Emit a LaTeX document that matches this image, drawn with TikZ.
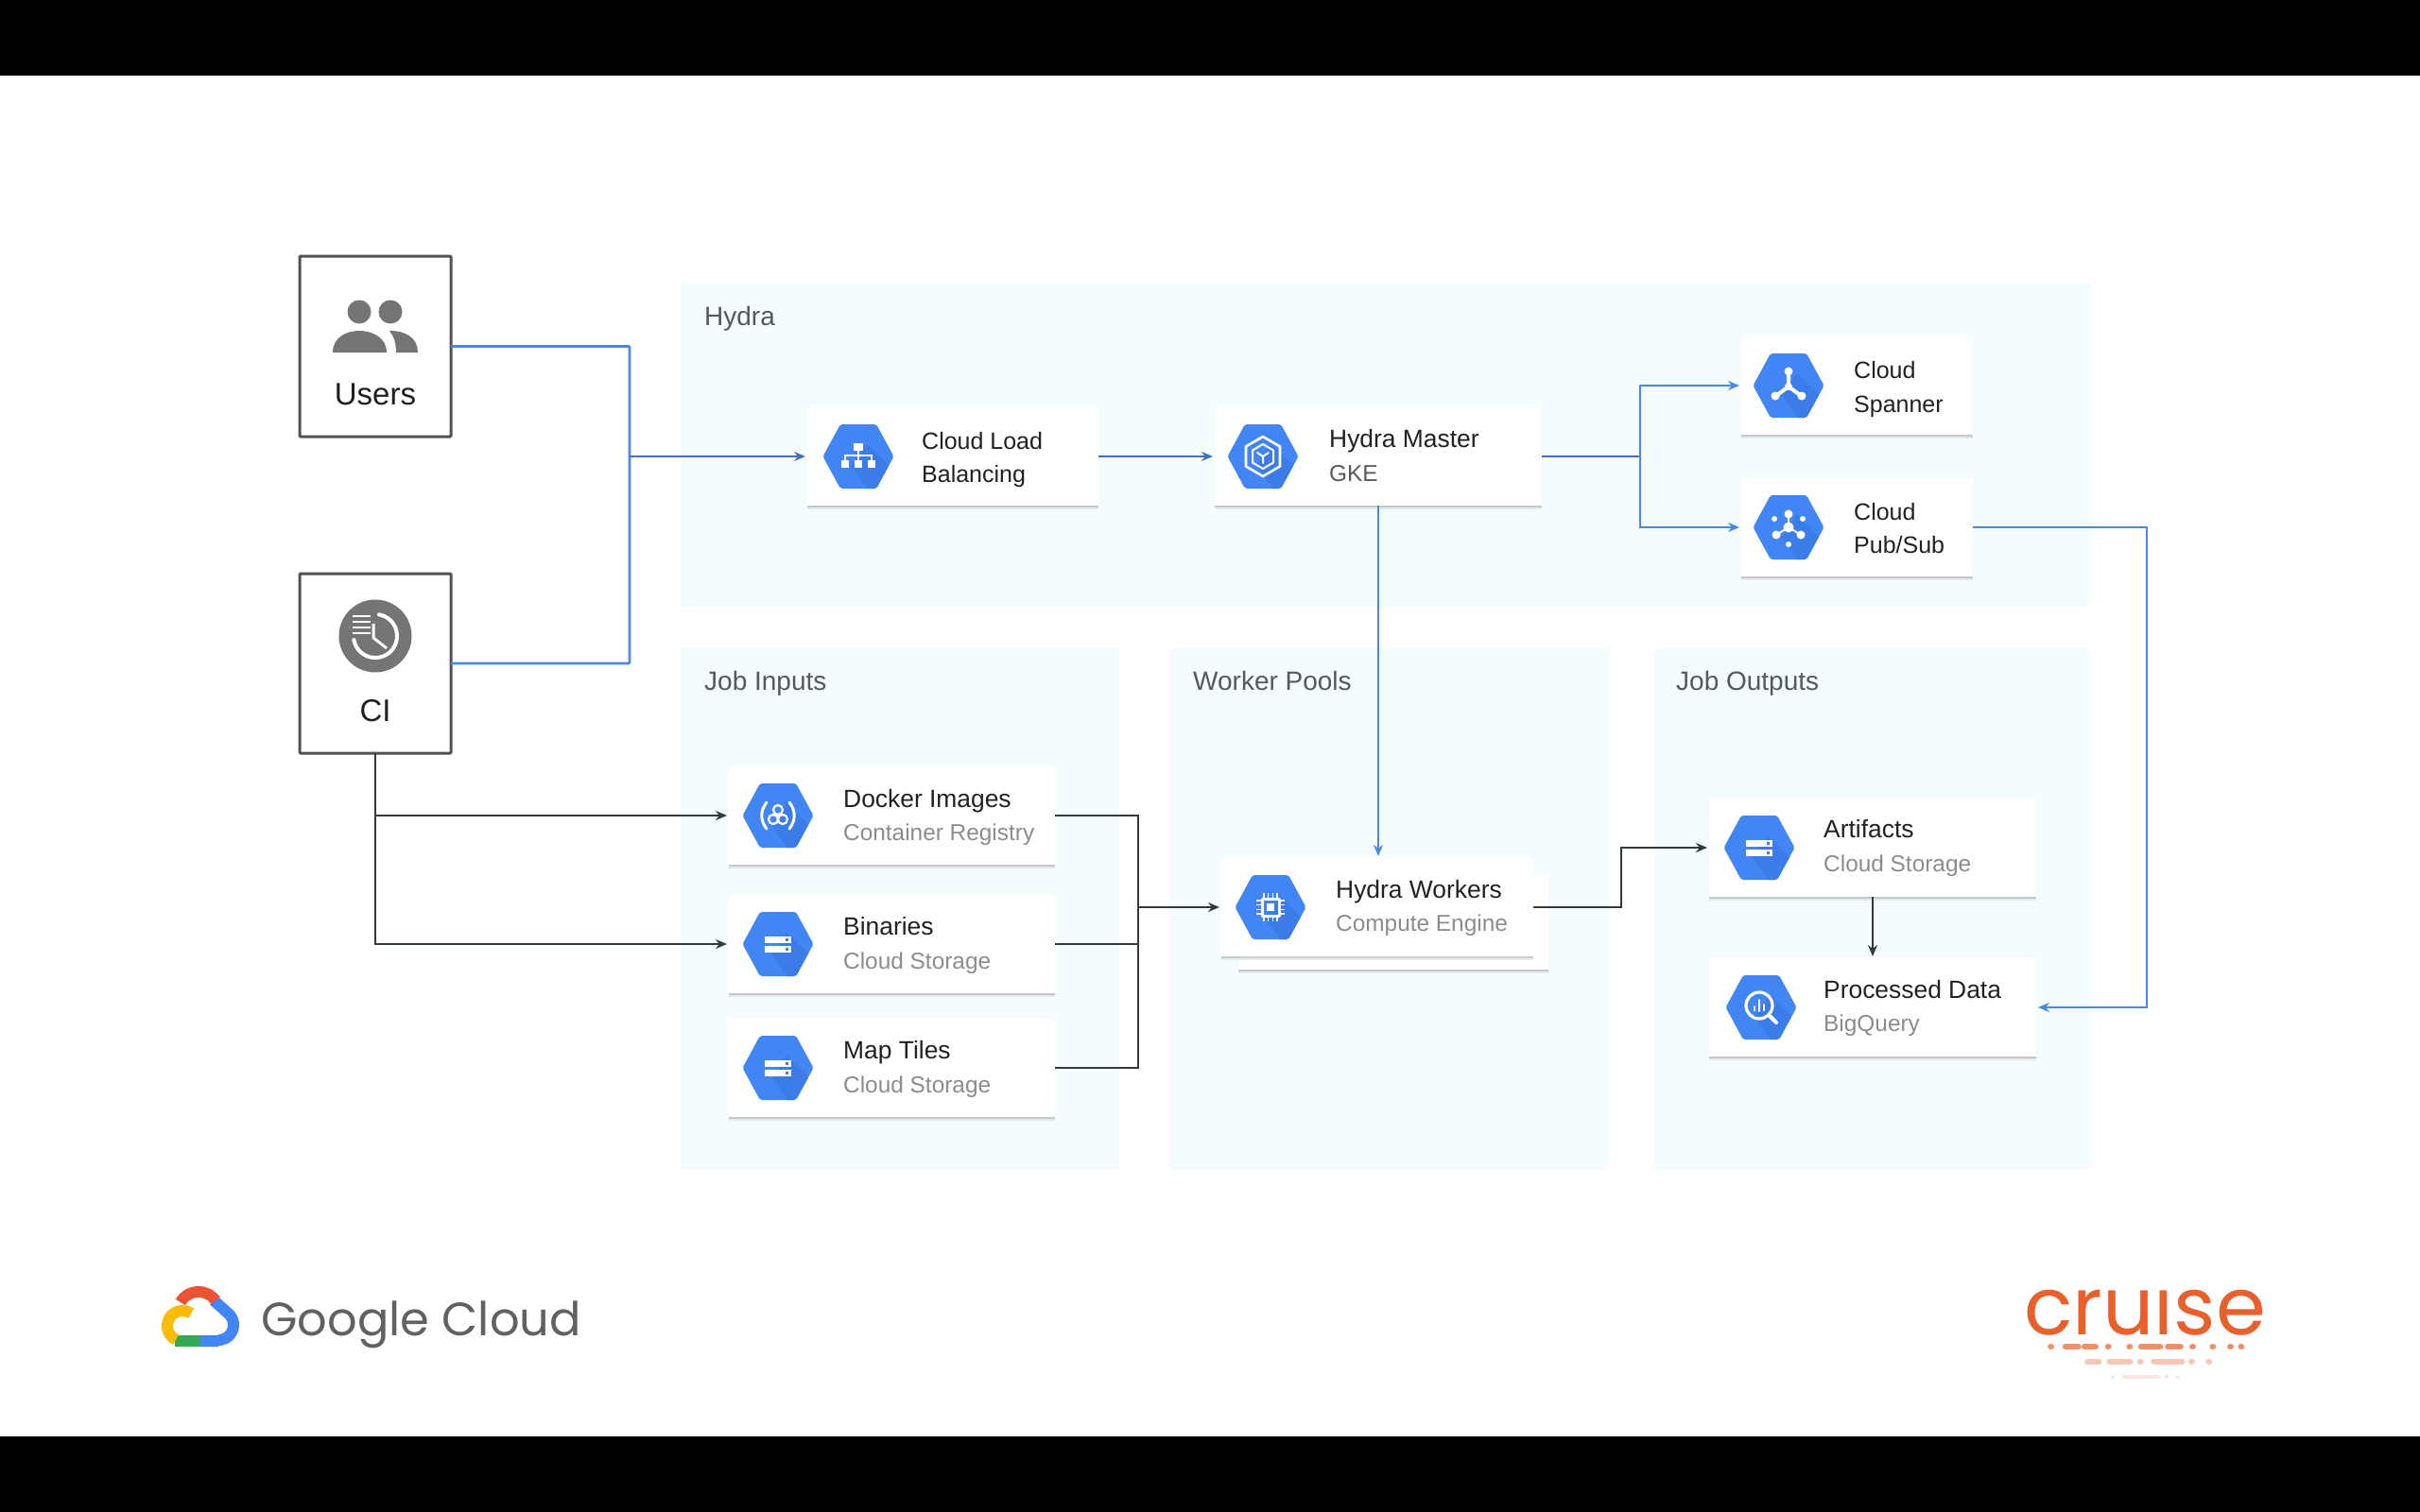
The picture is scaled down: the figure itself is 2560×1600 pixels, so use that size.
\documentclass[tikz,border=0pt]{standalone}
\usepackage{fontspec}
\setmainfont{Liberation Sans}
\newfontfamily\logofont{Poppins}
\usetikzlibrary{arrows.meta,shadows,calc}
\definecolor{zonebg}{HTML}{F4FCFE}
\definecolor{gblue}{HTML}{4285F4}
\definecolor{gbluedk}{HTML}{3C7CE8}
\definecolor{linkblue}{HTML}{4A88E4}
\definecolor{linkdark}{HTML}{4672B4}
\definecolor{linkblack}{HTML}{333A3C}
\definecolor{iconGrey}{HTML}{757575}
\definecolor{titleInk}{HTML}{1F2224}
\definecolor{subInk}{HTML}{8A8D90}
\definecolor{zoneInk}{HTML}{55595C}
\definecolor{cruiseOr}{HTML}{E8602C}
\tikzset{
  x=1pt,y=-1pt,
  >={Stealth[length=12pt,width=10pt]},
  zone/.style={fill=zonebg,draw=none},
  zonelabel/.style={anchor=base west,inner sep=0pt,text=zoneInk,font=\fontsize{28}{32}\selectfont},
  title/.style={anchor=base west,inner sep=0pt,text=titleInk,font=\fontsize{26.4}{30}\selectfont},
  titlenarrow/.style={title,font=\fontsize{25}{30}\selectfont},
  subtitle/.style={anchor=base west,inner sep=0pt,text=subInk,font=\fontsize{24.4}{29}\selectfont},
  cardbox/.style={fill=white,draw=none,inner sep=0pt,outer sep=0pt,
     drop shadow={shadow xshift=0pt,shadow yshift=-4pt,opacity=.10,fill=black!70},
     drop shadow={shadow xshift=0pt,shadow yshift=-2pt,opacity=.20,fill=black!70}},
  actor/.style={fill=white,draw=black!68,line width=3pt,inner sep=0pt,outer sep=0pt,rounded corners=1pt},
  actorlabel/.style={anchor=base,inner sep=0pt,text=black!88,font=\fontsize{33}{38}\selectfont},
  blueline/.style={draw=linkblue,line width=2.8pt},
  bluedark/.style={draw=linkdark,line width=2.8pt},
  blackline/.style={draw=linkblack,line width=2.8pt},
  tip/.style={->,shorten >=2pt},
  ico/.style={draw=white,line width=2.6pt,fill=none,line cap=round,line join=round},
  icf/.style={fill=white,draw=none},
}
\newcommand\mkbox[6]{% style name x1 y1 x2 y2
  \pgfmathsetmacro\mycw{#5-#3}\pgfmathsetmacro\mych{#6-#4}%
  \pgfmathsetmacro\mycx{(#3+#5)/2}\pgfmathsetmacro\mycy{(#4+#6)/2}%
  \node[#1,minimum width=\mycw pt,minimum height=\mych pt] (#2) at (\mycx,\mycy) {};}
\newcommand\hexa[2]{% cx cy
  \begin{scope}[shift={(#1,#2)}]
    \begin{scope}
      \clip[rounded corners=2pt] (-37.5,0)--(-19,-34)--(19,-34)--(37.5,0)--(19,34)--(-19,34)--cycle;
      \fill[gblue] (-40,-36) rectangle (40,36);
      \fill[gbluedk] (-7,10)--(9,-13)--(45,22)--(45,40)--(14,40)--cycle;
    \end{scope}}
\newcommand\hexend{\end{scope}}
\newcommand\icoStorage{%
  \fill[icf] (-14,-8) rectangle (14,-1);
  \fill[icf] (-14,2) rectangle (14,9);
  \fill[gbluedk] (8,-6) rectangle (11,-3);
  \fill[gbluedk] (8,4) rectangle (11,7);}
\begin{document}
\begin{tikzpicture}
\useasboundingbox (0,0) rectangle (2560,1600);
\fill[white] (0,0) rectangle (2560,1600);
\fill[black] (0,0) rectangle (2560,80);
\fill[black] (0,1520) rectangle (2560,1600);
% zones
\fill[zone,rounded corners=3pt] (720,299) rectangle (2212,642);
\fill[zone,rounded corners=3pt] (720,686) rectangle (1184,1238);
\fill[zone,rounded corners=3pt] (1236,686) rectangle (1701,1238);
\fill[zone,rounded corners=3pt] (1749,686) rectangle (2212,1238);
\node[zonelabel] (zhydra) at (745,344) {Hydra};
\node[zonelabel] (zinputs) at (745,730) {Job Inputs};
\node[zonelabel] (zpools) at (1262,730) {Worker Pools};
\node[zonelabel] (zoutputs) at (1773,730) {Job Outputs};
% actors
\mkbox{actor}{users}{317}{271}{477}{462}
\mkbox{actor}{ci}{317}{607}{477}{797}
\node[actorlabel] (userslabel) at (397,428) {Users};
\node[actorlabel] (cilabel) at (397,763) {CI};
% users icon
\fill[iconGrey] (380,330) circle[radius=12.5pt];
\fill[iconGrey] (413,330) circle[radius=12.5pt];
\fill[iconGrey] (352,373) .. controls (352,356) and (368,350) .. (380,350) .. controls (392,350) and (409,356) .. (409,373) -- cycle;
\fill[iconGrey] (412,350) .. controls (430,350) and (442,358) .. (442,373) -- (419,373) .. controls (419,364) and (417,356) .. (412,350) -- cycle;
% ci icon
\fill[iconGrey] (397,673) circle[radius=38.5pt];
\draw[white,line width=4pt,line cap=round] plot[domain=-60:190,samples=40] ({397+23*cos(\x+250)},{673-23*sin(\x+250)});
\draw[white,line width=3pt,line join=round] (395,660)--(395,675)--(409,686);
\foreach \yy in {652,658,664,670} \draw[white,line width=2.2pt] (373,\yy)--(392,\yy);
% cards
\mkbox{cardbox}{lb}{854}{431}{1162}{535}
\mkbox{cardbox}{hm}{1285}{431}{1631}{535}
\mkbox{cardbox}{spanner}{1842}{356}{2087}{460}
\mkbox{cardbox}{pubsub}{1842}{506}{2087}{610}
\mkbox{cardbox}{docker}{771}{811}{1116}{915}
\mkbox{cardbox}{binaries}{771}{947}{1116}{1051}
\mkbox{cardbox}{maptiles}{771}{1078}{1116}{1182}
\mkbox{cardbox}{workersback}{1310}{925}{1638}{1026}
\mkbox{cardbox}{workers}{1292}{908}{1622}{1012}
\mkbox{cardbox}{artifacts}{1808}{845}{2154}{949}
\mkbox{cardbox}{processed}{1808}{1014}{2154}{1118}
% card text
\node[titlenarrow] (t1a) at (975,475) {Cloud Load};
\node[titlenarrow] (t1b) at (975,510) {Balancing};
\node[title] (t2a) at (1406,473) {Hydra Master};
\node[subtitle,text=black!65] (t2b) at (1406,509) {GKE};
\node[titlenarrow] (t3a) at (1961,400) {Cloud};
\node[titlenarrow] (t3b) at (1961,436) {Spanner};
\node[titlenarrow] (t4a) at (1961,550) {Cloud};
\node[titlenarrow] (t4b) at (1961,585) {Pub/Sub};
\node[title] (t5a) at (892,854) {Docker Images};
\node[subtitle] (t5b) at (892,889) {Container Registry};
\node[title] (t6a) at (892,989) {Binaries};
\node[subtitle] (t6b) at (892,1025) {Cloud Storage};
\node[title] (t7a) at (892,1120) {Map Tiles};
\node[subtitle] (t7b) at (892,1156) {Cloud Storage};
\node[title] (t8a) at (1413,950) {Hydra Workers};
\node[subtitle] (t8b) at (1413,985) {Compute Engine};
\node[title] (t9a) at (1929,886) {Artifacts};
\node[subtitle] (t9b) at (1929,922) {Cloud Storage};
\node[title] (t10a) at (1929,1056) {Processed Data};
\node[subtitle] (t10b) at (1929,1091) {BigQuery};
% icons
\hexa{908}{483}
  \fill[icf] (-5,-14) rectangle (5,-6);
  \draw[white,line width=2.2pt] (0,-6)--(0,-1) (-14,5)--(-14,-1)--(14,-1)--(14,5) (0,-1)--(0,5);
  \fill[icf] (-18,4) rectangle (-10,12);
  \fill[icf] (-4,4) rectangle (4,12);
  \fill[icf] (10,4) rectangle (18,12);
\hexend
\hexa{1336}{483}
  \draw[ico] (0,-21)--(18,-10.5)--(18,10.5)--(0,21)--(-18,10.5)--(-18,-10.5)--cycle;
  \draw[ico,line width=2pt] (0,-13)--(11,-6.5)--(11,6.5)--(0,13)--(-11,6.5)--(-11,-6.5)--cycle;
  \draw[ico,line width=2pt] (-6,-4)--(0,0)--(6,-4) (0,0)--(0,7);
\hexend
\hexa{1892}{408}
  \draw[ico,line width=4pt] (0,1)--(0,-13) (0,1)--(-12,10) (0,1)--(12,10);
  \fill[icf] (0,-15) circle[radius=4.5pt];
  \fill[icf] (-14,11) circle[radius=4.5pt];
  \fill[icf] (14,11) circle[radius=4.5pt];
  \fill[icf] (0,1) circle[radius=4pt];
\hexend
\hexa{1892}{558}
  \draw[white,line width=2pt] (0,0)--(0,-14) (0,0)--(-13,8) (0,0)--(13,8);
  \fill[icf] (0,0) circle[radius=5.5pt];
  \fill[icf] (0,-14) circle[radius=4.5pt];
  \fill[icf] (-13,8) circle[radius=4.5pt];
  \fill[icf] (13,8) circle[radius=4.5pt];
  \fill[icf] (0,18) circle[radius=3pt];
  \fill[icf] (-15,-9) circle[radius=3pt];
  \fill[icf] (15,-9) circle[radius=3pt];
\hexend
\hexa{823}{863}
  \draw[ico,line width=3pt] (-12,-14) .. controls (-19,-5) and (-19,5) .. (-12,14);
  \draw[ico,line width=3pt] (12,-14) .. controls (19,-5) and (19,5) .. (12,14);
  \draw[ico,line width=2.2pt] (0,-6) circle[radius=5pt];
  \draw[ico,line width=2.2pt] (-5,4) circle[radius=5pt];
  \draw[ico,line width=2.2pt] (5,4) circle[radius=5pt];
\hexend
\hexa{823}{999}\icoStorage\hexend
\hexa{823}{1130}\icoStorage\hexend
\hexa{1344}{960}
  \draw[ico,line width=3pt] (-9,-9) rectangle (9,9);
  \fill[icf] (-4,-4) rectangle (4,4);
  \foreach \pp in {-7,-2.5,2.5,7} {
    \draw[white,line width=1.6pt] (\pp,-9)--(\pp,-15) (\pp,9)--(\pp,15) (-9,\pp)--(-15,\pp) (9,\pp)--(15,\pp);}
\hexend
\hexa{1861}{897}\icoStorage\hexend
\hexa{1863}{1066}
  \draw[ico,line width=3.2pt] (-2,-2) circle[radius=14pt];
  \draw[ico,line width=4pt] (9,9)--(16,16);
  \draw[ico,line width=2pt] (-7,-1)--(-7,3) (-2,-8)--(-2,4) (3,-3)--(3,3);
\hexend
% connectors
\coordinate (jn) at (666,483);
\coordinate (br) at (1735,483);
\coordinate (bus) at (1204,960);
\coordinate (rail) at (2271,800);
\coordinate (wk) at (1715,930);
\draw[blueline,rounded corners=1pt] (users.east) -| (jn);
\draw[blueline,rounded corners=1pt] (ci.east) -| (jn);
\draw[bluedark,tip] (jn) -- (lb.west);
\draw[bluedark,tip] (lb.east) -- (hm.west);
\draw[bluedark] (hm.east) -- (br);
\draw[blueline,tip] (br) |- (spanner.west);
\draw[blueline,tip] (br) |- (pubsub.west);
\draw[blueline,tip] (hm.south) -- (hm.south |- workers.north);
\draw[blueline,tip] (pubsub.east) -| (rail) |- (processed.east);
\draw[blackline,tip] (ci.south) |- (docker.west);
\draw[blackline,tip] (ci.south) |- (binaries.west);
\draw[blackline] (docker.east) -| (bus);
\draw[blackline] (binaries.east) -| (bus);
\draw[blackline] (maptiles.east) -| (bus);
\draw[blackline,tip] (bus) -- (workers.west);
\draw[blackline,tip] (workers.east) -| (wk) |- (artifacts.west);
\draw[blackline,tip] (artifacts.south) -- (processed.north);
% google cloud logo
\draw[line width=12pt,color={rgb,255:red,66;green,133;blue,244}] (212,1419)--(231,1419) plot[domain=-90:45,samples=30] ({231+16*cos(\x)},{1402-16*sin(\x)}) -- (226,1376);
\draw[line width=12pt,color={rgb,255:red,234;green,84;blue,53}] plot[domain=35:150,samples=30] ({210+22*cos(\x)},{1389-22*sin(\x)});
\draw[line width=12pt,color={rgb,255:red,52;green,168;blue,83}] (185,1419)--(212,1419);
\draw[line width=12pt,color={rgb,255:red,251;green,188;blue,5}] plot[domain=55:245,samples=30] ({193+16*cos(\x)},{1403-16*sin(\x)});
\node[anchor=base west,inner sep=0pt,text=black!62,font=\logofont\fontsize{49.5}{60}\selectfont] (gc) at (276,1413) {Google Cloud};
% cruise logo
\node[inner sep=0pt,text=cruiseOr,font=\logofont\fontsize{85}{100}\selectfont,anchor=base] (cruise) at (2269,1412) {cruıse};
\begin{scope}[line cap=round,line width=6.5pt]
\begin{scope}[draw=cruiseOr!70]
\foreach \aa/\bb in {178/179,225/265,285/320,360/361,428/429,465/525,550/590,628/629,692/693,748/749,782/783}
  \draw ({2110+\aa/3},1425)--({2110+\bb/3},1425);
\end{scope}
\begin{scope}[draw=cruiseOr!35]
\foreach \aa/\bb in {295/330,365/430,462/463,505/595,625/626,680/681}
  \draw ({2110+\aa/3},1441)--({2110+\bb/3},1441);
\end{scope}
\begin{scope}[draw=cruiseOr!15,line width=3.5pt]
\foreach \aa/\bb in {375/376,410/520,545/546,580/581}
  \draw ({2110+\aa/3},1457)--({2110+\bb/3},1457);
\end{scope}
\end{scope}
\end{tikzpicture}
\end{document}
